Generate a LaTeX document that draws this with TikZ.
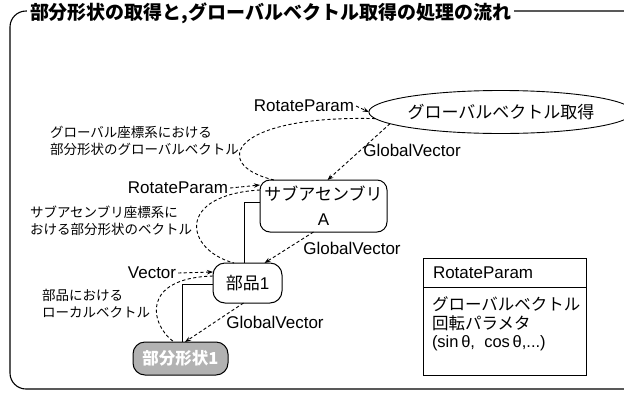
\documentclass[tikz,border=0pt]{standalone}
\usepackage{fontspec}
\setmainfont{Liberation Sans}
\newfontfamily\jp{Noto Sans CJK JP}
\usetikzlibrary{shapes.geometric,arrows.meta,calc}

\begin{document}
\begin{tikzpicture}[x=1pt,y=-1pt,
  every node/.style={inner sep=0pt, outer sep=0pt},
  dasharrow/.style={line width=0.9pt, dash pattern=on 3.2pt off 2.4pt, -{Stealth[length=6pt,width=4.5pt]}},
  dashcurve/.style={line width=0.9pt, dash pattern=on 3.2pt off 2.4pt},
  solidline/.style={line width=0.9pt},
  lbl/.style={font=\fontsize{17}{19}\selectfont, inner xsep=2pt},
  jlbl/.style={font=\jp\fontsize{13.5}{17}\selectfont, align=left, anchor=west},
  rbox/.style={draw, line width=1pt, rounded corners=10pt},
]
\useasboundingbox (0,0) rectangle (624,397);
\begin{scope}
  \clip (0,0) rectangle (624,397);
  \draw[line width=1.1pt, rounded corners=16pt] (650,11) -- (10,11) -- (10,389) -- (650,389);
\end{scope}
\node[fill=white, anchor=west, inner xsep=3pt, inner ysep=2pt, font=\jp\bfseries\fontsize{19}{22}\selectfont] (title) at (27,13) {部分形状の取得と,グローバルベクトル取得の処理の流れ};

% main nodes
\node[ellipse, draw, line width=0.9pt, minimum width=237pt, minimum height=43pt, font=\jp\fontsize{17}{20}\selectfont] (ell) at (501,112) {グローバルベクトル取得};
\node[rbox, minimum width=127pt, minimum height=52pt, align=center, font=\jp\fontsize{17}{25}\selectfont] (sub) at (323.5,206) {サブアセンブリ\\{\normalfont A}};
\node[rbox, rounded corners=12pt, minimum width=69pt, minimum height=40pt, font=\jp\fontsize{17}{20}\selectfont] (bu) at (247.5,283) {部品{\normalfont 1}};
\node[rbox, rounded corners=12pt, fill=gray!60, minimum width=95pt, minimum height=33pt, text=white, font=\jp\bfseries\fontsize{16.5}{19}\selectfont] (bs) at (180.5,358.5) {部分形状1};

% connector labels
\node[lbl] (rp1) at (304,106) {RotateParam};
\node[lbl] (rp2) at (178,188) {RotateParam};
\node[lbl] (gv1) at (412,150) {GlobalVector};
\node[lbl] (gv2) at (352,248) {GlobalVector};
\node[lbl] (gv3) at (275,322) {GlobalVector};
\node[lbl] (vec) at (152,273) {Vector};

\node[jlbl] (l1) at (50,140.5) {グローバル座標系における\\部分形状のグローバルベクトル};
\node[jlbl] (l2) at (30,221) {サブアセンブリ座標系に\\おける部分形状のベクトル};
\node[jlbl] (l3) at (42,303.5) {部品における\\ローカルベクトル};

% connectors
\draw[dasharrow] (rp1.east) -- (ell.west);
\draw[dashcurve] (ell.183) .. controls (230,115) and (210,165) .. ([xshift=14pt]sub.north west);
\draw[dasharrow] (ell.186) -- ([xshift=4pt]sub.north);
\draw[dasharrow] (rp2.east) -- ([yshift=21pt]sub.west);
\draw[dashcurve] ([yshift=16pt]sub.west) .. controls (175,195) and (185,250) .. ([xshift=21pt]bu.north west);
\draw[solidline] ([yshift=4pt]sub.west) -| ([xshift=-3pt]bu.north);
\draw[dasharrow] ([xshift=-10pt]sub.south) -- ([xshift=17pt]bu.north);
\draw[dasharrow] (vec.east) -- ([yshift=11pt]bu.west);
\draw[dashcurve] ([yshift=7pt]bu.west) .. controls (140,278) and (150,325) .. ([xshift=-6.5pt]bs.north);
\draw[solidline] ([yshift=-1pt]bu.west) -| ([xshift=1.5pt]bs.north);
\draw[dasharrow] ([xshift=-4pt]bu.south) -- ([xshift=4.5pt]bs.north);

% RotateParam class box
\node[draw, line width=1pt, minimum width=163pt, minimum height=117pt] (rpbox) at (504.5,316.5) {};
\draw[line width=1pt] ([yshift=-29pt]rpbox.north west) -- ([yshift=-29pt]rpbox.north east);
\node[lbl, anchor=west] (rph) at ([xshift=8pt,yshift=-14.5pt]rpbox.north west) {RotateParam};
\node[anchor=north west, align=left, font=\jp\fontsize{16.5}{18.5}\selectfont] (rpb) at ([xshift=9pt,yshift=-39pt]rpbox.north west) {グローバルベクトル\\回転パラメタ\\{\normalfont (sin\,θ,\ \ cos\,θ,...)}};
\end{tikzpicture}
\end{document}
